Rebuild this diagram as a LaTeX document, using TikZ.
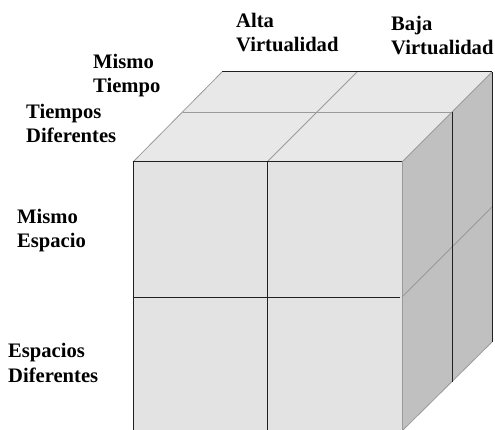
\documentclass[tikz,border=0pt]{standalone}
\usepackage{fontspec}
\setmainfont{Liberation Serif}
\definecolor{frontc}{HTML}{E3E3E3}
\definecolor{topc}{HTML}{E8E8E8}
\definecolor{sidec}{HTML}{C0C0C0}
\definecolor{edgedark}{HTML}{202020}
\definecolor{edgegray}{HTML}{9A9A9A}
\tikzset{
  lbl/.style={anchor=base west, inner sep=0pt, align=left,
    font=\fontsize{20.6}{24.5}\selectfont\bfseries},
  darkedge/.style={draw=edgedark, line width=1pt},
  grayedge/.style={draw=edgegray, line width=0.8pt},
}
\begin{document}
\begin{tikzpicture}[x=1pt,y=-1pt]
\useasboundingbox (0,0) rectangle (495,430);
% corners
\coordinate (f1) at (133,162);
\coordinate (f2) at (402,162);
\coordinate (f3) at (402,431);
\coordinate (f4) at (133,431);
\coordinate (b1) at (222,72);
\coordinate (b2) at (492,72);
\coordinate (b3) at (492,342);
% faces
\fill[frontc] (f1) -- (f2) -- (f3) -- (f4) -- cycle;
\fill[topc] (f1) -- (b1) -- (b2) -- (f2) -- cycle;
\fill[sidec] (f2) -- (b2) -- (b3) -- (f3) -- cycle;
% top face lines
\coordinate (tm1) at (183,112);
\coordinate (tm2) at (452,112);
\coordinate (tf) at (267,162);
\coordinate (tb) at (357,72);
\draw[grayedge] (f1) -- (b1);
\draw[grayedge] (tm1) -- (tm2);
\draw[grayedge] (tf) -- (tb);
\draw[grayedge] (f2) -- (b2);
\draw[darkedge] (b1) -- (b2);
% side face lines
\coordinate (sm1) at (402,297);
\coordinate (sm2) at (492,207);
\coordinate (sb) at (452,382);
\draw[grayedge] (f2) -- (f3);
\draw[grayedge] (sm1) -- (sm2);
\draw[grayedge] (f3) -- (b3);
\draw[darkedge] (tm2) -- (sb);
\draw[darkedge] (b2) -- (b3);
% front face lines
\coordinate (fm1) at (133,297);
\coordinate (fm2) at (400,297);
\coordinate (fv2) at (267,431);
\draw[darkedge] (f4) -- (f1) -- (f2);
\draw[darkedge] (fm1) -- (fm2);
\draw[darkedge] (tf) -- (fv2);
% labels
\node[lbl] (alta) at (236,52) {Alta\\Virtualidad};
\node[lbl] (baja) at (391,55) {Baja\\Virtualidad};
\node[lbl] (mt) at (93,93) {Mismo\\Tiempo};
\node[lbl] (td) at (26,143) {Tiempos\\Diferentes};
\node[lbl] (me) at (17,248) {Mismo\\Espacio};
\node[lbl] (ed) at (8,382) {Espacios\\Diferentes};
\end{tikzpicture}
\end{document}
